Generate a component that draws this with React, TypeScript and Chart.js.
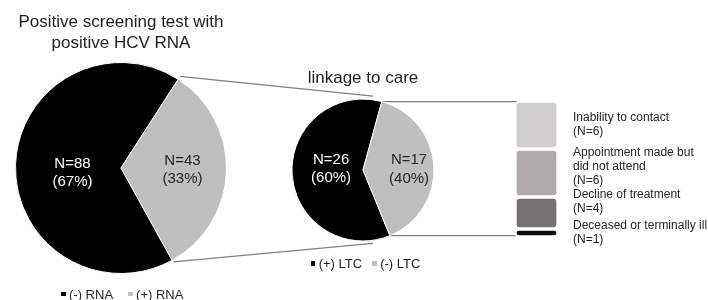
import React, { useEffect, useRef } from 'react';
import { Chart, registerables } from 'chart.js';

Chart.register(...registerables);

// ---------------- data ----------------
const screeningTitle = ['Positive screening test with', 'positive HCV RNA'];
const rnaLabels = ['(-) RNA', '(+) RNA'];
const rnaCounts = [88, 43];
const rnaColors = ['#000000', '#bfbfbf'];

const ltcTitle = 'linkage to care';
const ltcLabels = ['(+) LTC', '(-) LTC'];
const ltcCounts = [26, 17];
const ltcColors = ['#000000', '#bfbfbf'];

const reasonLabels = [
  ['Inability to contact'],
  ['Appointment made but', 'did not attend'],
  ['Decline of treatment'],
  ['Deceased or terminally ill'],
];
const reasonCounts = [6, 6, 4, 1];
const reasonColors = ['#d0cece', '#aeaaaa', '#767171', '#0d0d0d'];

// ---------------- layout ----------------
const FONT = '"Liberation Sans", Arial, Helvetica, sans-serif';
const BIG = { left: 6, top: 52.5, size: 230, radius: 105.5, rotation: 151 };
const SMALL = { left: 283, top: 90, size: 160, radius: 71, rotation: 157.7 };
const BAR = { left: 515, top: 101, width: 43, height: 136, border: 2 };
const reasonTextCenters = [116.5, 151.5, 193.5, 224.5];

function makePieLabels(cfg: { factors: number[]; dy: number[]; colors: string[] }) {
  return {
    id: 'pieLabels',
    afterDatasetsDraw(chart: any) {
      const meta = chart.getDatasetMeta(0);
      const values: number[] = chart.data.datasets[0].data;
      const total = values.reduce((a, b) => a + b, 0);
      const ctx = chart.ctx;
      ctx.save();
      ctx.font = `15px ${FONT}`;
      ctx.textAlign = 'center';
      ctx.textBaseline = 'middle';
      meta.data.forEach((arc: any, i: number) => {
        const mid = (arc.startAngle + arc.endAngle) / 2;
        const r = arc.outerRadius * cfg.factors[i];
        const px = arc.x + Math.cos(mid) * r;
        const py = arc.y + Math.sin(mid) * r + cfg.dy[i];
        ctx.fillStyle = cfg.colors[i];
        const pct = Math.round((values[i] / total) * 100);
        ctx.fillText(`N=${values[i]}`, px, py - 9.3);
        ctx.fillText(`(${pct}%)`, px, py + 9.3);
      });
      ctx.restore();
    },
  };
}

function pieConfig(labels: string[], data: number[], colors: string[], radius: number, rotation: number, plugin: any): any {
  return {
    type: 'pie',
    data: {
      labels,
      datasets: [{ data, backgroundColor: colors, borderColor: '#ffffff', borderWidth: 1 }],
    },
    options: {
      responsive: false,
      animation: false,
      events: [],
      radius,
      rotation,
      layout: { padding: 0 },
      plugins: { legend: { display: false }, tooltip: { enabled: false }, title: { display: false } },
    },
    plugins: [plugin],
  };
}

function Legend({ labels, colors, left, centerY, gap }: { labels: string[]; colors: string[]; left: number; centerY: number; gap: number }) {
  return (
    <div
      style={{
        position: 'absolute',
        left,
        top: centerY - 7.5,
        height: 15,
        display: 'flex',
        alignItems: 'center',
        gap,
        font: `13px ${FONT}`,
        lineHeight: '15px',
        color: '#262626',
        whiteSpace: 'nowrap',
      }}
    >
      {labels.map((l, i) => (
        <div key={i} style={{ display: 'flex', alignItems: 'center' }}>
          <span style={{ display: 'inline-block', width: 4.5, height: 4.5, background: colors[i], marginRight: 3.5 }} />
          <span>{l}</span>
        </div>
      ))}
    </div>
  );
}

export default function App() {
  const bigRef = useRef<HTMLCanvasElement>(null);
  const smallRef = useRef<HTMLCanvasElement>(null);
  const barRef = useRef<HTMLCanvasElement>(null);
  const lineRef = useRef<HTMLCanvasElement>(null);

  useEffect(() => {
    const big = new Chart(
      bigRef.current!,
      pieConfig(rnaLabels, rnaCounts, rnaColors, BIG.radius, BIG.rotation,
        makePieLabels({ factors: [0.46, 0.583], dy: [6.5, 0], colors: ['#ffffff', '#262626'] }))
    );
    const small = new Chart(
      smallRef.current!,
      pieConfig(ltcLabels, ltcCounts, ltcColors, SMALL.radius, SMALL.rotation,
        makePieLabels({ factors: [0.45, 0.65], dy: [-3, 2], colors: ['#ffffff', '#262626'] }))
    );

    const stackOrder = reasonCounts.map((_, i) => i).reverse(); // bottom of stack first
    const bar = new Chart(barRef.current!, {
      type: 'bar',
      data: {
        labels: ['reasons'],
        datasets: stackOrder.map((i) => ({
          label: reasonLabels[i].join(' '),
          data: [reasonCounts[i]],
          backgroundColor: reasonColors[i],
          borderColor: '#ffffff',
          borderWidth: BAR.border,
          borderSkipped: false,
          borderRadius: { topLeft: 5, topRight: 5, bottomLeft: 5, bottomRight: 5 },
          categoryPercentage: 1,
          barPercentage: 1,
        })),
      },
      options: {
        responsive: false,
        animation: false,
        events: [],
        layout: { padding: 0 },
        plugins: { legend: { display: false }, tooltip: { enabled: false } },
        scales: {
          x: { stacked: true, display: false },
          y: { stacked: true, display: false, min: 0, max: reasonCounts.reduce((a, b) => a + b, 0) },
        },
      },
    } as any);

    // connector lines
    const lc = lineRef.current!.getContext('2d')!;
    lc.clearRect(0, 0, 708, 300);
    lc.strokeStyle = '#7f7f7f';
    lc.lineWidth = 1.2;
    const bArc: any = big.getDatasetMeta(0).data[1];
    const bx = BIG.left + bArc.x, by = BIG.top + bArc.y, br = bArc.outerRadius;
    const sArc: any = small.getDatasetMeta(0).data[1];
    const sx = SMALL.left + sArc.x, sy = SMALL.top + sArc.y, sr = sArc.outerRadius;
    const barEl: any = bar.getDatasetMeta(0).data[0];
    const barLeft = BAR.left + barEl.x - barEl.width / 2 + BAR.border;
    const seg = (x1: number, y1: number, x2: number, y2: number) => {
      lc.beginPath();
      lc.moveTo(x1, y1);
      lc.lineTo(x2, y2);
      lc.stroke();
    };
    const tgt = (82.3 * Math.PI) / 180;
    seg(bx + (br + 3) * Math.cos(bArc.startAngle), by + (br + 3) * Math.sin(bArc.startAngle),
      sx + (sr + 3.5) * Math.cos(-tgt), sy + (sr + 3.5) * Math.sin(-tgt));
    seg(bx + (br + 2.5) * Math.cos(bArc.endAngle), by + (br + 2.5) * Math.sin(bArc.endAngle),
      sx + (sr + 3) * Math.cos(tgt), sy + (sr + 3) * Math.sin(tgt));
    const t1y = sy + sr * Math.sin(sArc.startAngle);
    seg(sx + sr * Math.cos(sArc.startAngle), t1y, barLeft, t1y);
    const t2y = sy + sr * Math.sin(sArc.endAngle);
    seg(sx + sr * Math.cos(sArc.endAngle), t2y, barLeft, t2y);

    return () => {
      big.destroy();
      small.destroy();
      bar.destroy();
    };
  }, []);

  const abs = (l: number, t: number): React.CSSProperties => ({ position: 'absolute', left: l, top: t });

  return (
    <div style={{ position: 'absolute', left: 0, top: 0, width: 708, height: 300, overflow: 'hidden', background: '#ffffff', fontFamily: FONT }}>
      <canvas ref={lineRef} width={708} height={300} style={abs(0, 0)} />
      <canvas ref={bigRef} width={BIG.size} height={BIG.size} style={abs(BIG.left, BIG.top)} />
      <canvas ref={smallRef} width={SMALL.size} height={SMALL.size} style={abs(SMALL.left, SMALL.top)} />
      <canvas ref={barRef} width={BAR.width} height={BAR.height} style={abs(BAR.left, BAR.top)} />

      <div style={{ ...abs(0, 10.9), width: 242, textAlign: 'center', font: `17px ${FONT}`, lineHeight: '21px', color: '#1f1f1f' }}>
        {screeningTitle.map((t, i) => (
          <div key={i}>{t}</div>
        ))}
      </div>
      <div style={{ ...abs(263, 66.9), width: 200, textAlign: 'center', font: `17px ${FONT}`, lineHeight: '21px', color: '#1f1f1f' }}>
        {ltcTitle}
      </div>

      <Legend labels={rnaLabels} colors={rnaColors} left={61} centerY={294} gap={15} />
      <Legend labels={ltcLabels} colors={ltcColors} left={310.7} centerY={263.3} gap={10} />

      {reasonLabels.map((lines, i) => (
        <div
          key={i}
          style={{ ...abs(573, reasonTextCenters[i] - 6.75), font: `12px ${FONT}`, lineHeight: '14px', color: '#262626', whiteSpace: 'nowrap' }}
        >
          {lines.map((l, j) => (
            <div key={j}>{l}</div>
          ))}
          <div>{`(N=${reasonCounts[i]})`}</div>
        </div>
      ))}
    </div>
  );
}
